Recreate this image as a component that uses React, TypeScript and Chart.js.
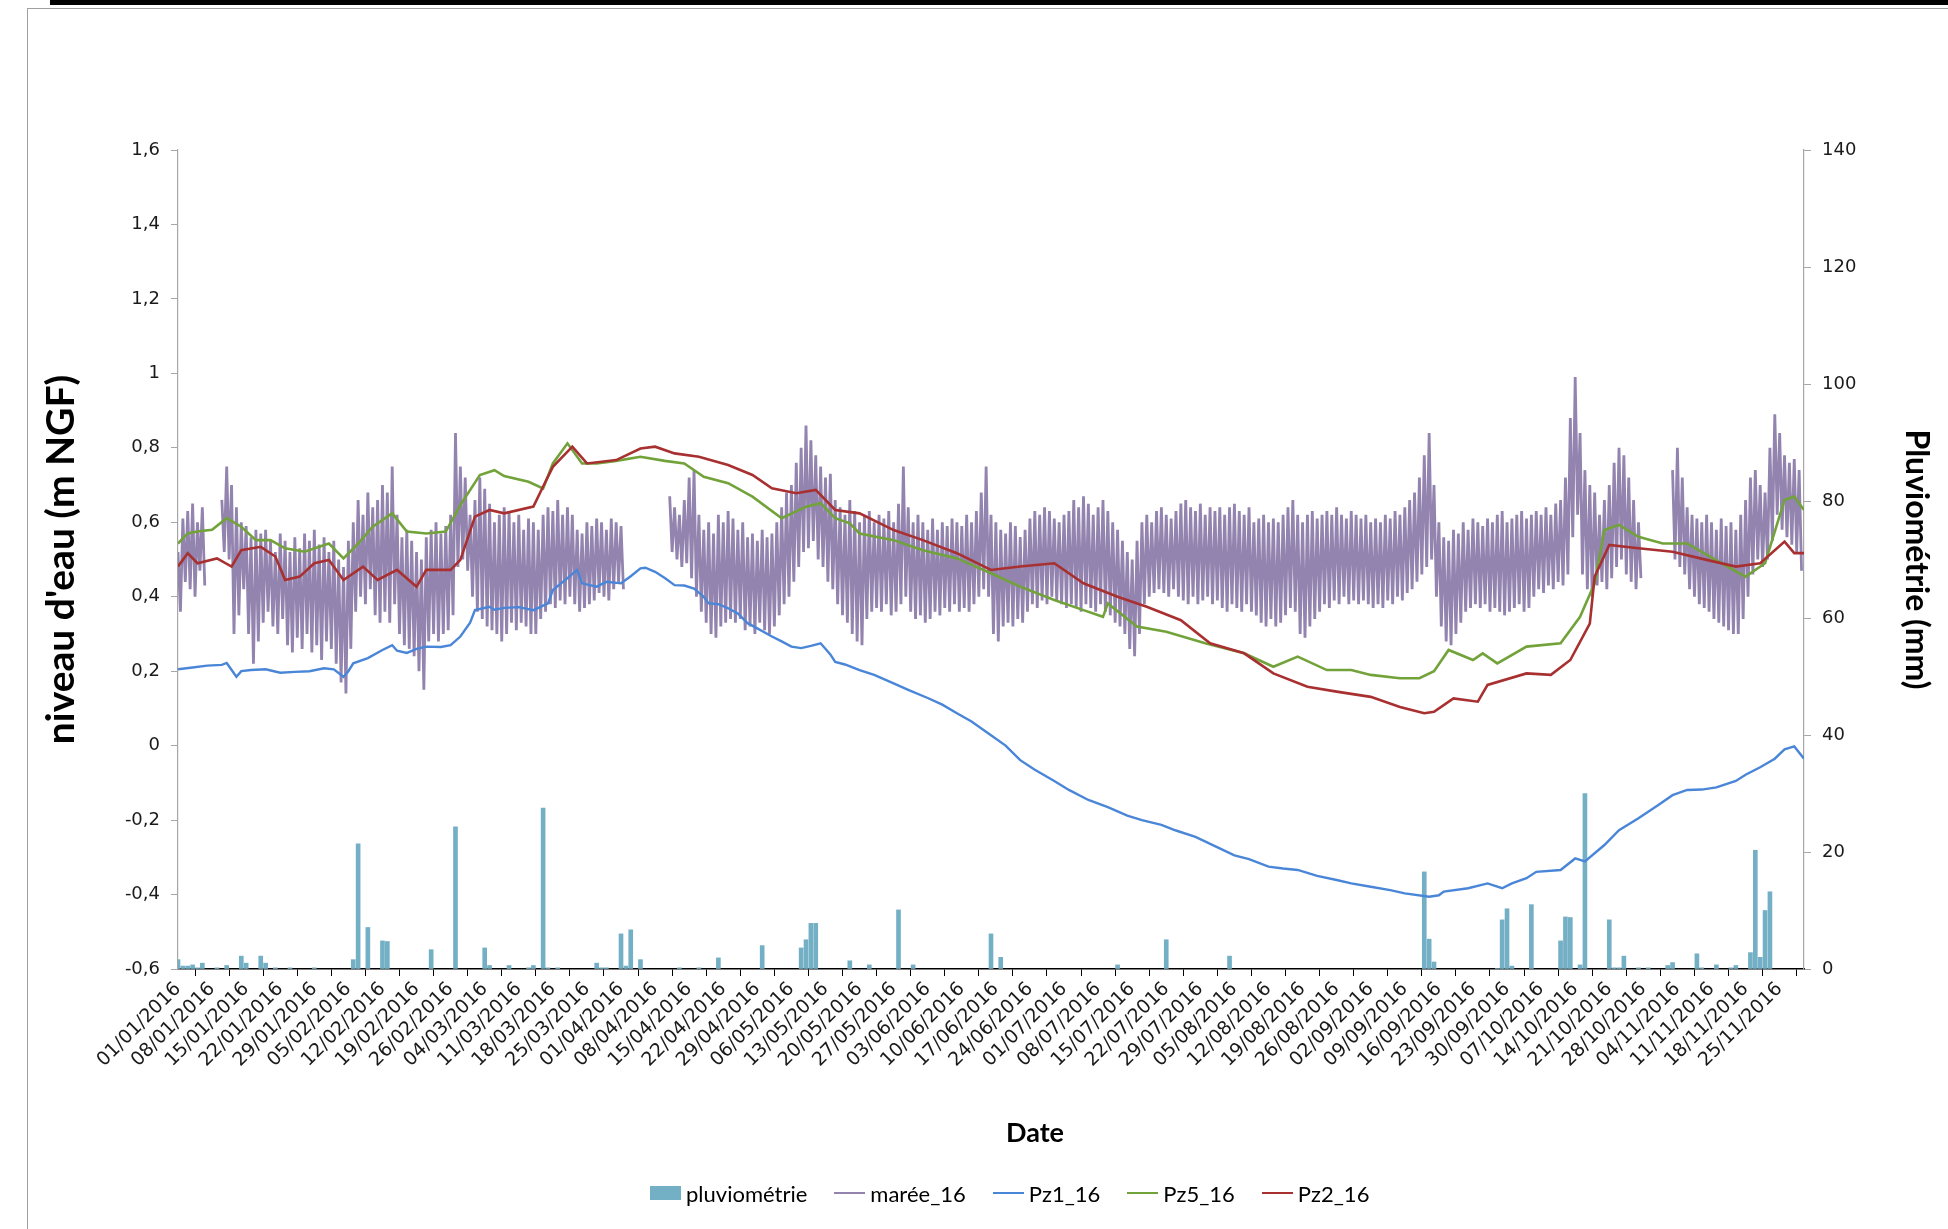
import React, { useEffect, useRef } from 'react';
import { Chart, registerables } from 'chart.js';

Chart.register(...registerables);

// ---- tick labels (weekly dates) ----
const DATE_LABELS = [
  '01/01/2016', '08/01/2016', '15/01/2016', '22/01/2016', '29/01/2016',
  '05/02/2016', '12/02/2016', '19/02/2016', '26/02/2016',
  '04/03/2016', '11/03/2016', '18/03/2016', '25/03/2016',
  '01/04/2016', '08/04/2016', '15/04/2016', '22/04/2016', '29/04/2016',
  '06/05/2016', '13/05/2016', '20/05/2016', '27/05/2016',
  '03/06/2016', '10/06/2016', '17/06/2016', '24/06/2016',
  '01/07/2016', '08/07/2016', '15/07/2016', '22/07/2016', '29/07/2016',
  '05/08/2016', '12/08/2016', '19/08/2016', '26/08/2016',
  '02/09/2016', '09/09/2016', '16/09/2016', '23/09/2016', '30/09/2016',
  '07/10/2016', '14/10/2016', '21/10/2016', '28/10/2016',
  '04/11/2016', '11/11/2016', '18/11/2016', '25/11/2016',
];

// ---- series names / colours ----
const SERIES_NAMES = ['pluviométrie', 'marée_16', 'Pz1_16', 'Pz5_16', 'Pz2_16'];
const SERIES_COLORS = ['#74B0C5', '#9383AF', '#4A86D8', '#72A23A', '#A83030'];

// ---- pluviométrie (day index since 01/01/2016, mm) ----
const RAIN_DAYS = [0, 1, 2, 3, 4, 5, 8, 10, 13, 14, 17, 18, 20, 23, 28, 36, 37, 39, 42, 43, 52, 57, 63, 64, 68, 72, 73, 75, 76, 78, 86, 87, 88, 91, 92, 93, 95, 103, 107, 111, 120, 128, 129, 130, 131, 138, 142, 148, 151, 167, 169, 193, 203, 216, 256, 257, 258, 271, 272, 273, 274, 278, 284, 285, 286, 288, 289, 294, 295, 296, 297, 300, 302, 306, 307, 312, 313, 316, 319, 320, 323, 324, 325, 326, 327];
const RAIN_MM = [1.6, 0.5, 0.5, 0.7, 0.2, 1.0, 0.2, 0.6, 2.2, 1.0, 2.2, 1.0, 0.2, 0.2, 0.2, 1.6, 21.4, 7.1, 4.8, 4.7, 3.3, 24.3, 3.6, 0.6, 0.6, 0.2, 0.6, 27.5, 0.2, 0.2, 1.0, 0.2, 0.2, 6.0, 0.5, 6.7, 1.6, 0.2, 0.2, 1.9, 4.0, 3.6, 5.0, 7.8, 7.8, 1.4, 0.7, 10.1, 0.7, 6.0, 2.0, 0.7, 5.0, 2.2, 16.6, 5.1, 1.2, 0.1, 8.4, 10.3, 0.5, 11.0, 4.8, 8.9, 8.8, 0.7, 30.0, 8.4, 0.2, 0.2, 2.2, 0.2, 0.2, 0.6, 1.1, 2.6, 0.2, 0.7, 0.2, 0.6, 2.8, 20.3, 2.0, 10.0, 13.2];

// ---- marée_16 : daily high / low water (index = day) ----
const MAREE_HIGH = [
  0.52, 0.61, 0.63, 0.65, 0.60, 0.64, null, null, null, 0.66,
  0.75, 0.70, 0.64, 0.60, 0.59, 0.56, 0.58, 0.57, 0.58, 0.55,
  0.52, 0.57, 0.55, 0.52, 0.56, 0.53, 0.57, 0.55, 0.58, 0.54,
  0.56, 0.52, 0.55, 0.50, 0.48, 0.55, 0.60, 0.66, 0.62, 0.68,
  0.64, 0.66, 0.70, 0.68, 0.75, 0.62, 0.56, 0.58, 0.55, 0.52,
  0.50, 0.56, 0.58, 0.60, 0.57, 0.59, 0.62, 0.84, 0.75, 0.72,
  0.62, 0.66, 0.72, 0.69, 0.65, 0.60, 0.62, 0.64, 0.63, 0.60,
  0.62, 0.58, 0.61, 0.60, 0.58, 0.62, 0.64, 0.63, 0.66, 0.62,
  0.64, 0.62, 0.58, 0.57, 0.60, 0.59, 0.61, 0.60, 0.58, 0.61,
  0.60, 0.59, null, null, null, null, null, null, null, null,
  null, 0.67, 0.64, 0.62, 0.66, 0.72, 0.74, 0.62, 0.58, 0.60,
  0.57, 0.62, 0.60, 0.63, 0.61, 0.58, 0.60, 0.56, 0.57, 0.55,
  0.58, 0.56, 0.57, 0.60, 0.64, 0.68, 0.70, 0.76, 0.80, 0.86,
  0.82, 0.78, 0.75, 0.72, 0.73, 0.66, 0.64, 0.62, 0.66, 0.63,
  0.60, 0.62, 0.63, 0.60, 0.62, 0.61, 0.63, 0.60, 0.65, 0.75,
  0.64, 0.60, 0.62, 0.60, 0.58, 0.61, 0.58, 0.60, 0.59, 0.61,
  0.60, 0.59, 0.62, 0.60, 0.63, 0.68, 0.75, 0.62, 0.60, 0.58,
  0.57, 0.60, 0.59, 0.56, 0.58, 0.61, 0.63, 0.62, 0.64, 0.63,
  0.61, 0.60, 0.62, 0.63, 0.66, 0.64, 0.67, 0.65, 0.62, 0.64,
  0.66, 0.63, 0.60, 0.58, 0.55, 0.52, 0.50, 0.55, 0.60, 0.62,
  0.60, 0.63, 0.64, 0.62, 0.61, 0.63, 0.65, 0.66, 0.64, 0.63,
  0.65, 0.62, 0.64, 0.63, 0.64, 0.62, 0.64, 0.65, 0.63, 0.62,
  0.64, 0.60, 0.61, 0.62, 0.60, 0.61, 0.60, 0.62, 0.64, 0.66,
  0.62, 0.60, 0.62, 0.63, 0.61, 0.62, 0.63, 0.62, 0.64, 0.62,
  0.61, 0.63, 0.62, 0.61, 0.62, 0.60, 0.61, 0.60, 0.62, 0.61,
  0.63, 0.62, 0.64, 0.66, 0.68, 0.72, 0.78, 0.84, 0.70, 0.60,
  0.56, 0.55, 0.58, 0.57, 0.60, 0.58, 0.61, 0.60, 0.59, 0.61,
  0.60, 0.62, 0.63, 0.60, 0.61, 0.62, 0.63, 0.61, 0.62, 0.63,
  0.62, 0.64, 0.62, 0.65, 0.66, 0.72, 0.88, 0.99, 0.84, 0.74,
  0.70, 0.68, 0.62, 0.66, 0.70, 0.76, 0.80, 0.78, 0.72, 0.66,
  0.60, null, null, null, null, null, null, 0.74, 0.80, 0.72,
  0.64, 0.62, 0.61, 0.60, 0.62, 0.60, 0.58, 0.61, 0.59, 0.60,
  0.58, 0.62, 0.66, 0.72, 0.74, 0.70, 0.68, 0.80, 0.89, 0.84,
  0.78, 0.76, 0.77, 0.74,
];
const MAREE_LOW = [
  0.36, 0.44, 0.42, 0.40, 0.47, 0.43, null, null, null, 0.52,
  0.50, 0.30, 0.35, 0.42, 0.30, 0.22, 0.28, 0.33, 0.36, 0.32,
  0.30, 0.34, 0.27, 0.25, 0.29, 0.26, 0.30, 0.25, 0.27, 0.23,
  0.28, 0.26, 0.22, 0.17, 0.14, 0.26, 0.36, 0.40, 0.38, 0.42,
  0.35, 0.33, 0.36, 0.33, 0.38, 0.30, 0.27, 0.26, 0.24, 0.20,
  0.15, 0.28, 0.30, 0.28, 0.30, 0.31, 0.35, 0.48, 0.50, 0.47,
  0.40, 0.36, 0.34, 0.32, 0.31, 0.30, 0.28, 0.30, 0.33, 0.31,
  0.33, 0.32, 0.30, 0.30, 0.34, 0.36, 0.38, 0.37, 0.39, 0.38,
  0.40, 0.38, 0.36, 0.37, 0.38, 0.39, 0.41, 0.40, 0.39, 0.42,
  0.44, 0.42, null, null, null, null, null, null, null, null,
  null, 0.52, 0.50, 0.48, 0.49, 0.45, 0.40, 0.36, 0.33, 0.30,
  0.29, 0.32, 0.33, 0.34, 0.33, 0.34, 0.31, 0.32, 0.30, 0.33,
  0.31, 0.30, 0.32, 0.35, 0.38, 0.40, 0.44, 0.48, 0.52, 0.53,
  0.55, 0.50, 0.48, 0.44, 0.42, 0.38, 0.35, 0.33, 0.30, 0.28,
  0.27, 0.34, 0.36, 0.37, 0.36, 0.38, 0.35, 0.36, 0.38, 0.40,
  0.36, 0.34, 0.35, 0.33, 0.34, 0.36, 0.35, 0.37, 0.36, 0.38,
  0.36, 0.37, 0.36, 0.38, 0.40, 0.42, 0.40, 0.30, 0.28, 0.32,
  0.33, 0.32, 0.34, 0.33, 0.36, 0.38, 0.37, 0.39, 0.38, 0.40,
  0.39, 0.38, 0.37, 0.38, 0.37, 0.36, 0.38, 0.37, 0.36, 0.38,
  0.36, 0.35, 0.33, 0.32, 0.30, 0.26, 0.24, 0.30, 0.38, 0.40,
  0.41, 0.42, 0.41, 0.40, 0.42, 0.40, 0.39, 0.38, 0.40, 0.38,
  0.39, 0.40, 0.38, 0.39, 0.37, 0.36, 0.38, 0.37, 0.36, 0.38,
  0.36, 0.35, 0.33, 0.32, 0.34, 0.32, 0.33, 0.35, 0.37, 0.36,
  0.30, 0.29, 0.32, 0.34, 0.36, 0.38, 0.37, 0.39, 0.38, 0.40,
  0.38, 0.39, 0.38, 0.39, 0.38, 0.37, 0.38, 0.37, 0.39, 0.38,
  0.40, 0.39, 0.41, 0.42, 0.44, 0.46, 0.48, 0.50, 0.40, 0.32,
  0.28, 0.27, 0.30, 0.33, 0.36, 0.37, 0.38, 0.37, 0.38, 0.36,
  0.37, 0.36, 0.35, 0.36, 0.37, 0.38, 0.36, 0.37, 0.40, 0.42,
  0.41, 0.43, 0.42, 0.44, 0.43, 0.46, 0.56, 0.62, 0.46, 0.42,
  0.40, 0.43, 0.44, 0.42, 0.45, 0.48, 0.50, 0.46, 0.44, 0.42,
  0.45, null, null, null, null, null, null, 0.50, 0.48, 0.46,
  0.42, 0.40, 0.38, 0.37, 0.36, 0.34, 0.33, 0.32, 0.31, 0.30,
  0.30, 0.34, 0.40, 0.46, 0.50, 0.48, 0.50, 0.55, 0.62, 0.58,
  0.56, 0.54, 0.52, 0.47,
];

// ---- piezometers (day index, m NGF) ----
const PZ1_DAYS = [0, 3, 6, 9, 10, 12, 13, 15, 18, 21, 24, 27, 30, 32, 34, 35, 36, 39, 42, 44, 45, 47, 49, 51, 54, 56, 58, 60, 61, 64, 65, 67, 70, 73, 76, 77, 80, 82, 83, 86, 88, 91, 93, 95, 96, 98, 100, 102, 104, 106, 108, 109, 111, 113, 115, 117, 119, 122, 124, 126, 128, 130, 132, 134, 135, 137, 140, 143, 147, 150, 154, 157, 160, 163, 167, 170, 173, 176, 180, 183, 187, 191, 195, 198, 202, 205, 209, 213, 217, 220, 224, 227, 230, 234, 238, 241, 245, 249, 252, 257, 259, 260, 265, 269, 272, 274, 277, 279, 284, 287, 289, 293, 296, 300, 304, 307, 310, 313, 316, 320, 322, 325, 328, 330, 332, 334];
const PZ1_VALUES = [0.205, 0.21, 0.215, 0.217, 0.222, 0.185, 0.2, 0.203, 0.205, 0.196, 0.198, 0.2, 0.208, 0.205, 0.185, 0.2, 0.221, 0.235, 0.257, 0.27, 0.255, 0.249, 0.26, 0.266, 0.265, 0.27, 0.293, 0.33, 0.364, 0.373, 0.365, 0.37, 0.372, 0.364, 0.382, 0.418, 0.45, 0.472, 0.436, 0.427, 0.44, 0.436, 0.455, 0.476, 0.478, 0.467, 0.45, 0.431, 0.43, 0.422, 0.4, 0.382, 0.38, 0.369, 0.355, 0.329, 0.315, 0.293, 0.28, 0.266, 0.262, 0.268, 0.275, 0.245, 0.225, 0.218, 0.203, 0.19, 0.167, 0.15, 0.128, 0.11, 0.087, 0.065, 0.028, 0.0, -0.039, -0.065, -0.095, -0.119, -0.146, -0.165, -0.188, -0.2, -0.213, -0.228, -0.245, -0.27, -0.295, -0.305, -0.325, -0.33, -0.334, -0.35, -0.361, -0.37, -0.379, -0.388, -0.397, -0.406, -0.402, -0.392, -0.383, -0.37, -0.383, -0.37, -0.356, -0.339, -0.334, -0.303, -0.311, -0.267, -0.227, -0.195, -0.16, -0.133, -0.119, -0.118, -0.112, -0.095, -0.078, -0.058, -0.035, -0.01, -0.002, -0.035];

const PZ5_DAYS = [0, 2, 4, 7, 10, 13, 16, 19, 22, 26, 31, 34, 37, 40, 44, 47, 51, 55, 58, 62, 65, 67, 72, 75, 77, 80, 83, 86, 90, 95, 100, 104, 108, 113, 118, 124, 129, 132, 135, 138, 140, 147, 153, 160, 167, 173, 180, 186, 190, 191, 197, 203, 211, 219, 225, 230, 236, 241, 245, 251, 255, 258, 261, 266, 268, 271, 277, 284, 288, 291, 293, 296, 300, 305, 310, 317, 322, 326, 330, 332, 334];
const PZ5_VALUES = [0.543, 0.57, 0.575, 0.58, 0.611, 0.588, 0.552, 0.552, 0.53, 0.521, 0.543, 0.503, 0.543, 0.588, 0.624, 0.575, 0.57, 0.575, 0.646, 0.727, 0.74, 0.724, 0.709, 0.691, 0.758, 0.812, 0.758, 0.758, 0.765, 0.776, 0.765, 0.758, 0.722, 0.705, 0.669, 0.611, 0.642, 0.651, 0.611, 0.597, 0.57, 0.552, 0.525, 0.503, 0.463, 0.427, 0.391, 0.364, 0.346, 0.382, 0.32, 0.306, 0.275, 0.248, 0.212, 0.239, 0.203, 0.203, 0.19, 0.181, 0.181, 0.2, 0.257, 0.23, 0.248, 0.221, 0.266, 0.275, 0.346, 0.436, 0.579, 0.593, 0.561, 0.543, 0.543, 0.49, 0.454, 0.49, 0.66, 0.669, 0.633];

const PZ2_DAYS = [0, 2, 4, 8, 11, 13, 17, 20, 22, 25, 28, 31, 34, 38, 41, 45, 49, 51, 56, 58, 61, 64, 67, 73, 75, 77, 81, 84, 90, 95, 98, 102, 107, 113, 118, 122, 127, 131, 135, 140, 147, 153, 160, 167, 173, 180, 186, 193, 199, 206, 212, 219, 225, 232, 238, 245, 251, 256, 258, 262, 267, 269, 277, 282, 286, 290, 291, 294, 300, 307, 314, 320, 325, 330, 332, 334];
const PZ2_VALUES = [0.481, 0.517, 0.49, 0.503, 0.481, 0.525, 0.534, 0.508, 0.445, 0.454, 0.49, 0.499, 0.445, 0.481, 0.445, 0.472, 0.427, 0.472, 0.472, 0.499, 0.615, 0.633, 0.624, 0.642, 0.696, 0.749, 0.803, 0.758, 0.767, 0.798, 0.803, 0.785, 0.776, 0.754, 0.727, 0.691, 0.678, 0.687, 0.633, 0.624, 0.579, 0.552, 0.517, 0.472, 0.481, 0.49, 0.436, 0.4, 0.373, 0.337, 0.275, 0.248, 0.194, 0.158, 0.145, 0.131, 0.104, 0.087, 0.091, 0.127, 0.118, 0.163, 0.194, 0.19, 0.23, 0.328, 0.454, 0.539, 0.53, 0.521, 0.499, 0.481, 0.49, 0.548, 0.517, 0.517];

const W = 1948;
const H = 1229;

function fmtLevel(v: number): string {
  const r = Math.round(v * 10) / 10;
  if (r === 0) return '0';
  return String(r).replace('.', ',');
}

const dateTitlePlugin = {
  id: 'dateTitle',
  afterDraw(chart: any) {
    const { ctx, chartArea } = chart;
    ctx.save();
    ctx.font = 'bold 27px Lato';
    ctx.fillStyle = '#000';
    ctx.textAlign = 'center';
    ctx.textBaseline = 'middle';
    ctx.fillText('Date', (chartArea.left + chartArea.right) / 2 + 44, chartArea.bottom + 164);
    ctx.restore();
  },
};

function Legend() {
  return (
    <div
      style={{
        position: 'absolute',
        left: 650,
        top: 1179,
        height: 28,
        display: 'flex',
        alignItems: 'center',
        fontFamily: 'Lato, sans-serif',
        fontSize: 22,
        color: '#000',
        whiteSpace: 'nowrap',
      }}
    >
      {SERIES_NAMES.map((name, i) => (
        <div key={name} style={{ display: 'flex', alignItems: 'center', marginRight: i < SERIES_NAMES.length - 1 ? 27 : 0 }}>
          {i === 0 ? (
            <span style={{ display: 'inline-block', width: 31, height: 14, background: SERIES_COLORS[i] }} />
          ) : (
            <span style={{ display: 'inline-block', width: 31, height: 2, background: SERIES_COLORS[i] }} />
          )}
          <span style={{ marginLeft: 5 }}>{name}</span>
        </div>
      ))}
    </div>
  );
}

export default function App() {
  const canvasRef = useRef<HTMLCanvasElement | null>(null);

  useEffect(() => {
    if (!canvasRef.current) return;
    const maree: { x: number; y: number | null }[] = [];
    MAREE_HIGH.forEach((h, d) => {
      maree.push({ x: d, y: h });
      maree.push({ x: d + 0.5, y: MAREE_LOW[d] });
    });
    const rain = RAIN_DAYS.map((d, i) => ({ x: d, y: RAIN_MM[i] }));
    const pz1 = PZ1_DAYS.map((d, i) => ({ x: d, y: PZ1_VALUES[i] }));
    const pz5 = PZ5_DAYS.map((d, i) => ({ x: d, y: PZ5_VALUES[i] }));
    const pz2 = PZ2_DAYS.map((d, i) => ({ x: d, y: PZ2_VALUES[i] }));

    const yTickFont = { family: 'DejaVu Sans', size: 18 };
    const xTickFont = { family: 'DejaVu Sans', size: 19 };

    const chart = new Chart(canvasRef.current, {
      type: 'bar',
      data: {
        datasets: [
          {
            type: 'bar',
            label: SERIES_NAMES[0],
            data: rain as any,
            yAxisID: 'y1',
            backgroundColor: SERIES_COLORS[0],
            borderWidth: 0,
            barThickness: 4,
            order: 4,
          } as any,
          {
            type: 'line',
            label: SERIES_NAMES[1],
            data: maree as any,
            yAxisID: 'y',
            borderColor: SERIES_COLORS[1],
            borderWidth: 2.8,
            pointRadius: 0,
            spanGaps: false,
            tension: 0,
            order: 3,
          } as any,
          {
            type: 'line',
            label: SERIES_NAMES[2],
            data: pz1 as any,
            yAxisID: 'y',
            borderColor: SERIES_COLORS[2],
            borderWidth: 2.4,
            pointRadius: 0,
            tension: 0,
            order: 2,
          } as any,
          {
            type: 'line',
            label: SERIES_NAMES[3],
            data: pz5 as any,
            yAxisID: 'y',
            borderColor: SERIES_COLORS[3],
            borderWidth: 2.6,
            pointRadius: 0,
            tension: 0,
            order: 1,
          } as any,
          {
            type: 'line',
            label: SERIES_NAMES[4],
            data: pz2 as any,
            yAxisID: 'y',
            borderColor: SERIES_COLORS[4],
            borderWidth: 2.6,
            pointRadius: 0,
            tension: 0,
            order: 0,
          } as any,
        ],
      },
      options: {
        responsive: false,
        animation: false,
        devicePixelRatio: 1,
        layout: { padding: { left: 27, right: 0, top: 150, bottom: 74 } },
        plugins: {
          tooltip: { enabled: false },
          legend: { display: false },
        },
        scales: {
          x: {
            type: 'linear',
            min: 0,
            max: 334,
            offset: false,
            afterBuildTicks: (scale: any) => {
              scale.ticks = DATE_LABELS.map((_, i) => ({ value: i * 7 }));
            },
            afterFit: (scale: any) => {
              scale.height = 186;
            },
            grid: { display: true, drawOnChartArea: false, drawTicks: true, tickLength: 7, color: '#000' },
            border: { display: true, color: '#000', width: 1.5 },
            ticks: {
              autoSkip: false,
              minRotation: 45,
              maxRotation: 45,
              padding: 2,
              color: '#1a1a1a',
              font: xTickFont,
              callback: (_v: any, i: number) => DATE_LABELS[i],
            },
          },
          y: {
            type: 'linear',
            position: 'left',
            min: -0.6,
            max: 1.6,
            afterFit: (scale: any) => {
              scale.width = 151;
            },
            grid: { display: true, drawOnChartArea: false, drawTicks: true, tickLength: 7, color: '#A6A6A6' },
            border: { display: true, color: '#A6A6A6', width: 1.2 },
            ticks: {
              stepSize: 0.2,
              padding: 11,
              color: '#1a1a1a',
              font: yTickFont,
              callback: (v: any) => fmtLevel(Number(v)),
            },
            title: {
              display: true,
              text: "niveau d'eau (m NGF)",
              color: '#000',
              font: { family: 'Lato', size: 39, weight: 'bold' },
              padding: { top: 11, bottom: 0 },
            },
          },
          y1: {
            type: 'linear',
            position: 'right',
            min: 0,
            max: 140,
            afterFit: (scale: any) => {
              scale.width = 144;
            },
            grid: { display: true, drawOnChartArea: false, drawTicks: true, tickLength: 7, color: '#A6A6A6' },
            border: { display: true, color: '#A6A6A6', width: 1.2 },
            ticks: {
              stepSize: 20,
              padding: 11,
              color: '#1a1a1a',
              font: yTickFont,
            },
            title: {
              display: true,
              text: 'Pluviométrie (mm)',
              color: '#000',
              font: { family: 'Lato', size: 32, weight: 'bold' },
              padding: { top: 12, bottom: 0 },
            },
          },
        },
      } as any,
      plugins: [dateTitlePlugin],
    });
    return () => chart.destroy();
  }, []);

  return (
    <div style={{ position: 'fixed', left: 0, top: 0, width: W, height: H, background: '#fff', overflow: 'hidden' }}>
      <div style={{ position: 'absolute', left: 50, top: 0, width: W - 50, height: 5, background: '#000' }} />
      <div
        style={{
          position: 'absolute',
          left: 27,
          top: 8,
          right: 0,
          bottom: 0,
          borderLeft: '1px solid #A0A0A0',
          borderTop: '1px solid #A0A0A0',
        }}
      />
      <canvas ref={canvasRef} width={W} height={H} style={{ position: 'absolute', left: 0, top: 0, width: W, height: H }} />
      <Legend />
    </div>
  );
}
